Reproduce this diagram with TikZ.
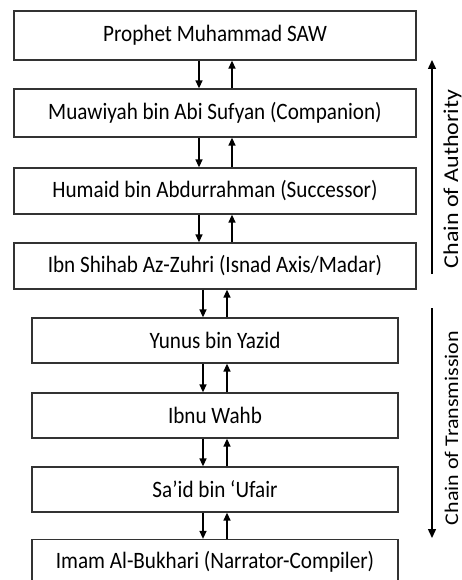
\documentclass[tikz,border=0pt]{standalone}
\usepackage{fontspec}
\setmainfont{Carlito}[FakeStretch=0.9]
\newfontfamily\sidefont{Carlito}
\usetikzlibrary{arrows.meta}
\begin{document}
\begin{tikzpicture}[x=1pt,y=-1pt,
  box/.style={draw=black!80,line width=1.3pt,fill=white,inner sep=0pt,font=\fontsize{23.5}{28}\selectfont},
  wide/.style={box,minimum width=402pt},
  narrow/.style={box,minimum width=366pt},
  link/.style={line width=1.4pt,-{Triangle[length=8pt,width=7pt]}},
  side/.style={line width=1.4pt,-{Triangle[length=9pt,width=8pt]}},
  sidelabel/.style={rotate=90,anchor=base,inner sep=0pt}]
\useasboundingbox (0,0) rectangle (462,580);
\node[wide,minimum height=49pt] (b1) at (215,35.5) {Prophet Muhammad SAW};
\node[wide,minimum height=48pt] (b2) at (215,113) {Muawiyah bin Abi Sufyan (Companion)};
\node[wide,minimum height=46pt] (b3) at (215,191) {Humaid bin Abdurrahman (Successor)};
\node[wide,minimum height=46pt] (b4) at (215,266) {Ibn Shihab Az-Zuhri (Isnad Axis/Madar)};
\node[narrow,minimum height=45pt] (b5) at (215,340.5) {Yunus bin Yazid};
\node[narrow,minimum height=45pt] (b6) at (215,415.5) {Ibnu Wahb};
\node[narrow,minimum height=45pt] (b7) at (215,489.5) {Sa’id bin ‘Ufair};
\node[narrow,minimum height=45pt] (b8) at (215,562) {Imam Al-Bukhari (Narrator-Compiler)};
\foreach \a/\b in {b1/b2,b2/b3,b3/b4}{
  \draw[link] ([xshift=-16pt]\a.south) -- ([xshift=-16pt]\b.north);
  \draw[link] ([xshift=17pt]\b.north) -- ([xshift=17pt]\a.south);
}
\foreach \a/\b in {b4/b5,b5/b6,b6/b7,b7/b8}{
  \draw[link] ([xshift=-12pt]\a.south) -- ([xshift=-12pt]\b.north);
  \draw[link] ([xshift=12pt]\b.north) -- ([xshift=12pt]\a.south);
}
\coordinate (a1) at (432,274);
\coordinate (a2) at (432,60);
\coordinate (t1) at (432,308);
\coordinate (t2) at (432,538);
\draw[side] (a1) -- (a2);
\draw[side] (t1) -- (t2);
\node[sidelabel] (la) at (458,179) {\scalebox{1}[0.88]{\sidefont\fontsize{24}{28}\selectfont Chain of Authority}};
\node[sidelabel] (lt) at (458,428) {\scalebox{1}[0.88]{\sidefont\fontsize{22}{26}\selectfont Chain of Transmission}};
\end{tikzpicture}
\end{document}
